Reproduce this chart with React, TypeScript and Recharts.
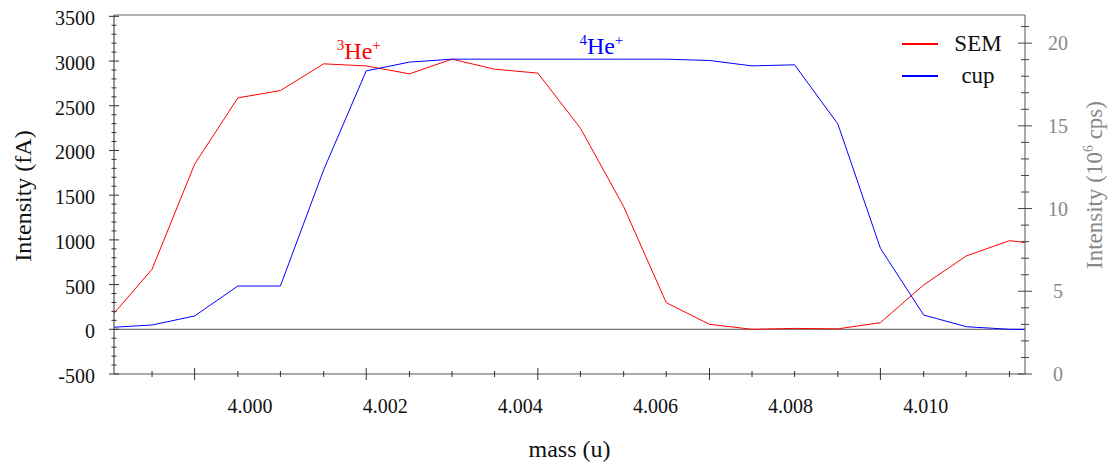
import { LineChart, Line, XAxis, YAxis, ReferenceLine, ReferenceDot, Legend } from 'recharts';

const FONT = '"Liberation Serif", "Times New Roman", serif';
const serif = { fontFamily: FONT };

// scan steps, mass (u)
const masses = [
  3.99792, 3.99855, 3.99918, 3.99982, 4.00045, 4.00109, 4.00172, 4.00236,
  4.00299, 4.00362, 4.00426, 4.00489, 4.00553, 4.00616, 4.0068, 4.00743,
  4.00806, 4.0087, 4.00933, 4.00997, 4.0106, 4.01124, 4.01187,
];
const semValues = [
  120, 671, 1846, 2588, 2670, 2969, 2945, 2857, 3021, 2909, 2865, 2249,
  1372, 298, 56, 0, 10, 5, 74, 496, 820, 991, 935,
];
const cupValues = [
  20, 48, 149, 484, 484, 1783, 2890, 2988, 3021, 3021, 3021, 3021, 3021,
  3021, 3006, 2946, 2958, 2297, 906, 160, 29, 0, 0,
];

const massLabels = [4.0, 4.002, 4.004, 4.006, 4.008, 4.01];
const majorSteps = [3.99918, 4.00172, 4.00426, 4.0068, 4.00933];
const stepMarks = masses.slice(1, 22);

const fALabels = [-500, 0, 500, 1000, 1500, 2000, 2500, 3000, 3500];
const cpsLabels = [0, 5, 10, 15, 20];

const fAMarks: number[] = [];
for (let v = -500; v <= 3500; v += 100) fAMarks.push(v);
const cpsMarks: number[] = [];
for (let v = 0; v <= 21; v += 1) cpsMarks.push(v);

const ions = [
  { iso: '3', mass: 4.00161, value: 3025, color: '#ff0000' },
  { iso: '4', mass: 4.0052, value: 3081, color: '#0000ff' },
];

const data = masses.map((mass, i) => ({ mass, SEM: semValues[i], cup: cupValues[i] }));

const xTicks = [...stepMarks, ...massLabels].sort((a, b) => a - b);

const XTick = ({ x, y, payload }: any) => {
  const v = payload.value;
  if (massLabels.includes(v)) {
    return (
      <text x={x} y={y + 39} textAnchor="middle" fontSize={20} style={serif} fill="#111">
        {v.toFixed(3)}
      </text>
    );
  }
  const h = majorSteps.includes(v) ? 6 : 3;
  return <line x1={x} x2={x} y1={y - h} y2={y + h} stroke="#333" />;
};

const LeftTick = ({ x, y, payload }: any) => {
  const v = payload.value;
  const major = fALabels.includes(v);
  const h = major ? 5 : 2.5;
  return (
    <g>
      <line x1={x - h} x2={x + h} y1={y} y2={y} stroke="#333" />
      {major && (
        <text x={x - 19} y={y + 2} textAnchor="end" dominantBaseline="central" fontSize={20} style={serif} fill="#111">
          {v}
        </text>
      )}
    </g>
  );
};

const RightTick = ({ x, y, payload }: any) => {
  const v = payload.value;
  const major = cpsLabels.includes(v);
  const h = major ? 7 : 4;
  return (
    <g>
      <line x1={x - h} x2={x + h} y1={y} y2={y} stroke="#444" />
      {major && (
        <text x={x + 33} y={y} textAnchor="middle" dominantBaseline="central" fontSize={20} style={serif} fill="#888">
          {v}
        </text>
      )}
    </g>
  );
};

const renderLegend = ({ payload }: any) => (
  <div style={{ fontFamily: FONT, fontSize: 23, color: '#111' }}>
    {(payload || []).map((p: any) => (
      <div key={p.value} style={{ display: 'flex', alignItems: 'center', height: 32 }}>
        <span style={{ display: 'inline-block', width: 36, height: 1.5, background: p.color, marginLeft: 7 }} />
        <span style={{ display: 'inline-block', width: 60, marginLeft: 10, textAlign: 'center', lineHeight: '32px' }}>
          {p.value}
        </span>
      </div>
    ))}
  </div>
);

const ionLabel = (iso: string, color: string) => ({ viewBox }: any) => (
  <text x={viewBox.x} y={viewBox.y} textAnchor="middle" fontSize={24} style={serif} fill={color}>
    <tspan dy={-9} fontSize={15}>{iso}</tspan>
    <tspan dy={9}>He</tspan>
    <tspan dy={-9} fontSize={15}>+</tspan>
  </text>
);

export default function App() {
  return (
    <div style={{ position: 'absolute', left: 0, top: 0, background: '#fff' }}>
      <LineChart width={1110} height={462} data={data} margin={{ top: 15, right: 0, bottom: 0, left: 0 }} style={serif}>
        <XAxis
          xAxisId="mass"
          dataKey="mass"
          type="number"
          domain={[3.997987, 4.01147]}
          allowDataOverflow
          ticks={xTicks}
          interval={0}
          tickSize={0}
          tickMargin={0}
          tick={XTick}
          tickLine={false}
          axisLine={{ stroke: '#555' }}
          height={88}
          label={{
            content: ({ viewBox }: any) => (
              <text x={viewBox.x + viewBox.width / 2} y={457} textAnchor="middle" fontSize={24} style={serif} fill="#111">
                mass (u)
              </text>
            ),
          }}
        />
        <YAxis
          yAxisId="fA"
          type="number"
          domain={[-500, 3515]}
          allowDataOverflow
          ticks={fAMarks}
          interval={0}
          tickSize={0}
          tickMargin={0}
          tick={LeftTick}
          tickLine={false}
          axisLine={{ stroke: '#333' }}
          width={114}
          label={{
            content: () => (
              <text x={31} y={196} transform="rotate(-90 31 196)" textAnchor="middle" fontSize={24} style={serif} fill="#111">
                Intensity (fA)
              </text>
            ),
          }}
        />
        <YAxis
          yAxisId="cps"
          orientation="right"
          type="number"
          domain={[0, 21.7]}
          allowDataOverflow
          ticks={cpsMarks}
          interval={0}
          tickSize={0}
          tickMargin={0}
          tick={RightTick}
          tickLine={false}
          axisLine={{ stroke: '#555' }}
          width={85}
          label={{
            content: () => (
              <text x={1102} y={185} transform="rotate(-90 1102 185)" textAnchor="middle" fontSize={23} style={serif} fill="#888">
                Intensity (10<tspan dy={-9} fontSize={14}>6</tspan>
                <tspan dy={9}> cps)</tspan>
              </text>
            ),
          }}
        />
        <ReferenceLine xAxisId="mass" yAxisId="fA" y={3515} stroke="#666" ifOverflow="visible" />
        <ReferenceLine xAxisId="mass" yAxisId="fA" y={0} stroke="#555" />
        <Line
          xAxisId="mass"
          yAxisId="fA"
          type="linear"
          dataKey="SEM"
          stroke="#ff0000"
          strokeWidth={1}
          dot={false}
          isAnimationActive={false}
        />
        <Line
          xAxisId="mass"
          yAxisId="fA"
          type="linear"
          dataKey="cup"
          stroke="#0000ff"
          strokeWidth={1}
          dot={false}
          isAnimationActive={false}
        />
        {ions.map((ion) => (
          <ReferenceDot
            key={ion.iso}
            xAxisId="mass"
            yAxisId="fA"
            x={ion.mass}
            y={ion.value}
            r={0}
            fill="none"
            stroke="none"
            label={{ content: ionLabel(ion.iso, ion.color) }}
          />
        ))}
        <Legend
          layout="vertical"
          verticalAlign="middle"
          align="center"
          content={renderLegend}
          wrapperStyle={{ left: 895, top: 28, width: 120 }}
        />
      </LineChart>
    </div>
  );
}
